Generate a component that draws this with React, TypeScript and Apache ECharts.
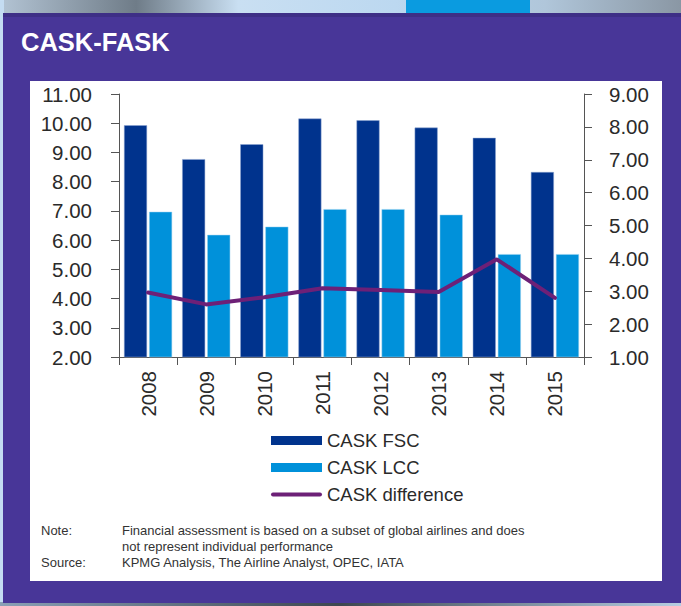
import React, { useEffect, useRef } from "react";
import * as echarts from "echarts";

const years = ["2008", "2009", "2010", "2011", "2012", "2013", "2014", "2015"];
const caskFsc = [9.93, 8.77, 9.28, 10.16, 10.1, 9.85, 9.5, 8.33];
const caskLcc = [6.97, 6.18, 6.46, 7.06, 7.06, 6.87, 5.52, 5.52];
const caskDiff = [2.96, 2.6, 2.82, 3.09, 3.04, 2.98, 3.97, 2.8];

const titleText = "CASK-FASK";
const noteLines = [
  ["Note:", "Financial assessment is based on a subset of global airlines and does"],
  ["", "not represent individual performance"],
  ["Source:", "KPMG Analysis, The Airline Analyst, OPEC, IATA"],
];

const PURPLE_FRAME = "#483698";
const DARK_BLUE = "#00338D";
const LIGHT_BLUE = "#0091DA";
const LINE_PURPLE = "#6D2077";
const TEXT = "#2a2a2a";
const FONT = "'Liberation Sans', Arial, Helvetica, sans-serif";
const LINE_ICON = "path://M2,0 L49,0 A2,2 0 0 1 49,4 L2,4 A2,2 0 0 1 2,0 Z";

export default function App() {
  const ref = useRef<HTMLDivElement>(null);
  useEffect(() => {
    if (!ref.current) return;
    const chart = echarts.init(ref.current, null, { renderer: "svg" });
    const noteGraphics: any[] = [];
    noteLines.forEach((row, i) => {
      const y = 530 + i * 16.2;
      if (row[0]) {
        noteGraphics.push({
          type: "text",
          x: 41,
          y,
          style: { text: row[0], fill: "#333", font: `13px ${FONT}`, textVerticalAlign: "middle" },
        });
      }
      noteGraphics.push({
        type: "text",
        x: 122,
        y,
        style: { text: row[1], fill: "#333", font: `13px ${FONT}`, textVerticalAlign: "middle" },
      });
    });
    chart.setOption({
      animation: false,
      backgroundColor: "#ffffff",
      textStyle: { fontFamily: FONT },
      graphic: [
        {
          type: "rect",
          z: -10,
          shape: { x: 0, y: 0, width: 681, height: 14 },
          style: {
            fill: new echarts.graphic.LinearGradient(0, 0, 1, 0, [
              { offset: 0, color: "#b3c4d4" },
              { offset: 0.2, color: "#6f7c88" },
              { offset: 0.35, color: "#c9dff2" },
              { offset: 0.58, color: "#bcd8f0" },
              { offset: 0.8, color: "#b0c6da" },
              { offset: 1, color: "#8a97a4" },
            ]),
          },
        },
        {
          type: "rect",
          z: -9,
          shape: { x: 406, y: 0, width: 124, height: 14 },
          style: { fill: "#0a9be0" },
        },
        {
          type: "rect",
          z: -10,
          shape: { x: 0, y: 0, width: 4, height: 606 },
          style: { fill: "#c4dcf2" },
        },
        {
          type: "rect",
          z: -10,
          shape: { x: 0, y: 602, width: 681, height: 4 },
          style: {
            fill: new echarts.graphic.LinearGradient(0, 0, 1, 0, [
              { offset: 0, color: "#8aa0b6" },
              { offset: 0.5, color: "#3d4650" },
              { offset: 1, color: "#b6cde2" },
            ]),
          },
        },
        {
          type: "rect",
          z: -8,
          shape: { x: 3, y: 13, width: 678, height: 590 },
          style: { fill: PURPLE_FRAME },
        },
        {
          type: "rect",
          z: -7,
          shape: { x: 3, y: 13, width: 678, height: 4 },
          style: { fill: "#3e2f86" },
        },
        {
          type: "rect",
          z: -6,
          shape: { x: 30, y: 81, width: 632, height: 500 },
          style: { fill: "#ffffff" },
        },
        {
          type: "text",
          x: 21,
          y: 55,
          style: {
            text: titleText,
            fill: "#ffffff",
            font: `bold 25.5px ${FONT}`,
            textVerticalAlign: "bottom",
          },
        },
        ...noteGraphics,
      ],
      legend: {
        orient: "vertical",
        left: 266,
        top: 426,
        itemWidth: 51,
        itemHeight: 9,
        itemGap: 8,
        itemStyle: { borderWidth: 0 },
        textStyle: { fontSize: 18.5, color: TEXT, fontFamily: FONT },
        data: [
          { name: "CASK FSC", icon: "rect", itemStyle: { borderWidth: 0 } },
          { name: "CASK LCC", icon: "rect", itemStyle: { borderWidth: 0 } },
          { name: "CASK difference", icon: LINE_ICON, itemStyle: { color: LINE_PURPLE, borderWidth: 0 } },
        ],
      },
      grid: { left: 119, right: 97, top: 94, height: 263, containLabel: false },
      xAxis: {
        type: "category",
        data: years,
        boundaryGap: true,
        axisLine: { lineStyle: { color: "#555", width: 1 } },
        axisTick: { show: true, length: 8, lineStyle: { color: "#555" } },
        axisLabel: { rotate: 90, fontSize: 20.5, color: TEXT, margin: 14, fontFamily: FONT },
      },
      yAxis: [
        {
          type: "value",
          min: 2,
          max: 11,
          interval: 1,
          position: "left",
          splitLine: { show: false },
          axisLine: { show: true, lineStyle: { color: "#555", width: 1 } },
          axisTick: { show: true, length: 8, lineStyle: { color: "#555" } },
          axisLabel: {
            fontSize: 20.5,
            color: TEXT,
            margin: 27,
            fontFamily: FONT,
            formatter: (v: number) => v.toFixed(2),
          },
        },
        {
          type: "value",
          min: 1,
          max: 9,
          interval: 1,
          position: "right",
          splitLine: { show: false },
          axisLine: { show: true, lineStyle: { color: "#555", width: 1 } },
          axisTick: { show: true, length: 8, lineStyle: { color: "#555" } },
          axisLabel: {
            fontSize: 20.5,
            color: TEXT,
            margin: 25,
            fontFamily: FONT,
            formatter: (v: number) => v.toFixed(2),
          },
        },
      ],
      series: [
        {
          name: "CASK FSC",
          type: "bar",
          data: caskFsc,
          barWidth: 23,
          barGap: "9%",
          itemStyle: { color: DARK_BLUE, borderColor: "#8fa6d2", borderWidth: 0.5 },
        },
        {
          name: "CASK LCC",
          type: "bar",
          data: caskLcc,
          barWidth: 23,
          itemStyle: { color: LIGHT_BLUE, borderColor: "#9fd3f0", borderWidth: 0.5 },
        },
        {
          name: "CASK difference",
          type: "line",
          yAxisIndex: 1,
          data: caskDiff,
          symbol: "none",
          showSymbol: false,
          lineStyle: { color: LINE_PURPLE, width: 4, cap: "round" },
          itemStyle: { color: LINE_PURPLE },
        },
      ],
    });
    return () => chart.dispose();
  }, []);
  return (
    <div
      ref={ref}
      style={{ position: "fixed", left: 0, top: 0, width: 681, height: 606 }}
    />
  );
}
